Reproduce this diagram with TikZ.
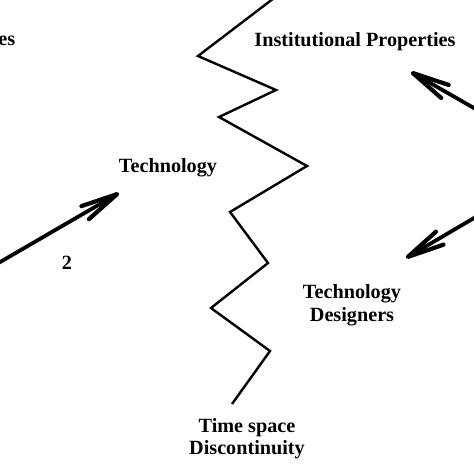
\documentclass[tikz,border=0pt]{standalone}
\usepackage{fontspec}
\setmainfont{Liberation Serif}
\usetikzlibrary{arrows.meta}
\begin{document}
\begin{tikzpicture}[x=1pt,y=-1pt,
  lbl/.style={font=\fontsize{20.2}{22.5}\selectfont\bfseries, inner sep=0pt, align=center},
  zig/.style={line width=2.4pt, line join=miter},
  flow/.style={line width=3.8pt, line cap=round,
    -{Straight Barb[length=37pt,width=15pt,line width=4.2pt,round]}}]
\useasboundingbox (0,0) rectangle (474,474);
% labels
\node[lbl, anchor=base east] (es) at (15.5,45) {es};
\node[lbl, anchor=base] (inst) at (355,46) {Institutional Properties};
\node[lbl, anchor=base] (tech) at (168,172) {Technology};
\node[lbl, anchor=base] (two) at (67,269) {2};
\node[lbl, anchor=center] (des) at (352,305) {Technology\\Designers};
\node[lbl, anchor=center] (tsd) at (247,438.5) {Time space\\Discontinuity};
% zigzag
\coordinate (z0) at (278,-5);
\coordinate (z1) at (198,56);
\coordinate (z2) at (276,90);
\coordinate (z3) at (219,117);
\coordinate (z4) at (307,166);
\coordinate (z5) at (230,212);
\coordinate (z6) at (268,263);
\coordinate (z7) at (211,308);
\coordinate (z8) at (270,351);
\coordinate (z9) at (232,404);
\draw[zig] (z0) -- (z1) -- (z2) -- (z3) -- (z4) -- (z5) -- (z6) -- (z7) -- (z8) -- (z9);
% arrows
\coordinate (a1s) at (-5,265);
\coordinate (a1e) at (119,193);
\coordinate (a2s) at (480,111.5);
\coordinate (a2e) at (411,72);
\coordinate (a3s) at (480,214.5);
\coordinate (a3e) at (406,258);
\draw[flow] (a1s) -- (a1e);
\draw[flow] (a2s) -- (a2e);
\draw[flow] (a3s) -- (a3e);
\end{tikzpicture}
\end{document}
